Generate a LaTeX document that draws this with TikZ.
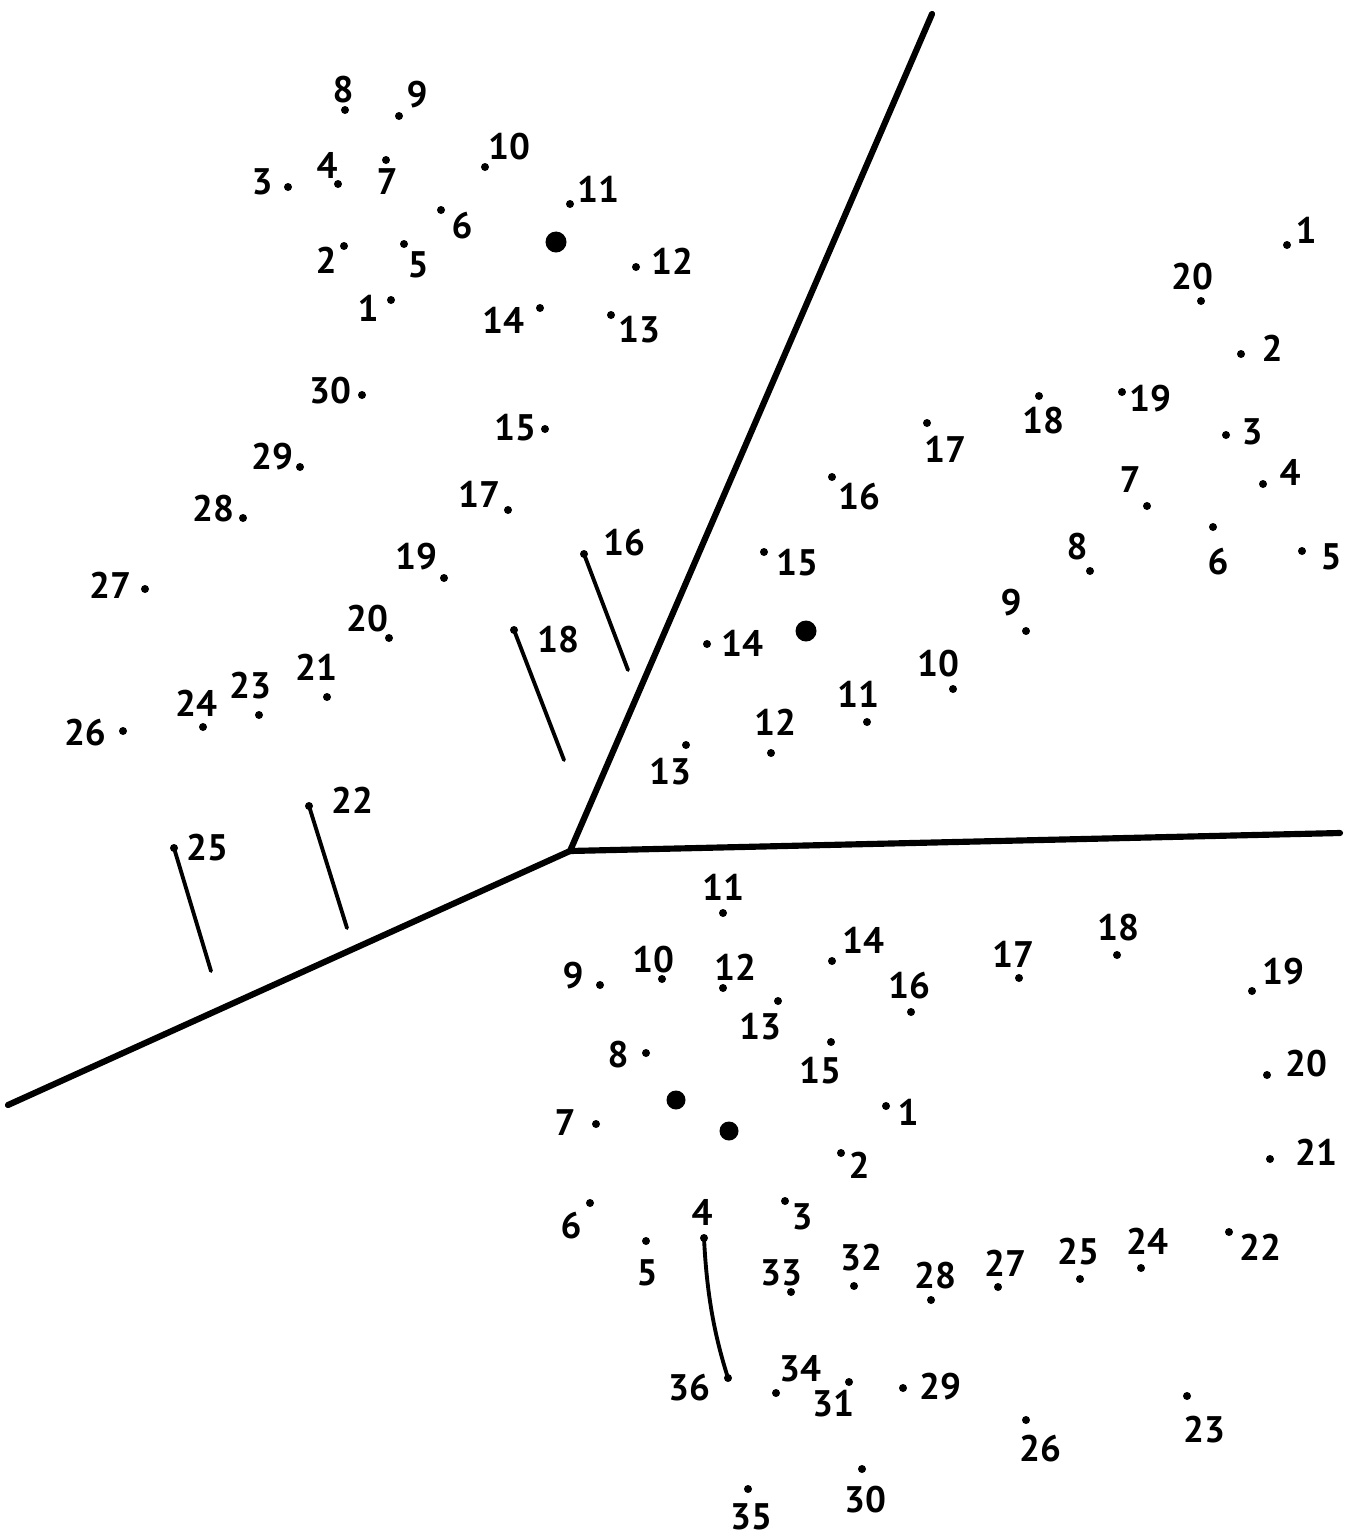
\documentclass[tikz,border=0pt]{standalone}
\usepackage{fontspec}
\setmainfont{PT Sans}
\begin{document}
\begin{tikzpicture}[x=0.01cm,y=-0.01cm,
  dot/.style={circle,fill=black,inner sep=0pt,minimum size=0.08cm},
  bigdot/.style={circle,fill=black,inner sep=0pt,minimum size=0.21cm},
  lbl/.style={inner sep=0pt,font=\fontsize{10.5}{12}\selectfont\bfseries},
  wall/.style={line width=1.75pt,line cap=round,line join=round},
  seg/.style={line width=1.1pt,line cap=round}]
\useasboundingbox (0,0) rectangle (1352,1539);
% top-left group
\foreach \n/\x/\y/\lx/\ly in {1/391/300/368/308, 2/344/246/326/260, 3/288/187/262/182,
  4/338/184/327/165, 5/404/244/418/265, 6/441/210/462/226, 7/386/160/387/182,
  8/345/110/343/90, 9/399/116/417/95, 10/485/167/509/147, 11/570/204/598/189,
  12/636/267/672/261, 13/611/315/639/330, 14/540/308/503/320, 15/545/429/515/428,
  16/584/554/624/543, 17/508/510/479/494, 18/514/630/558/640, 19/444/578/416/557,
  20/389/638/367/619, 21/327/697/316/667, 22/309/806/352/800, 23/259/715/250/686,
  24/203/727/196/703, 25/174/848/207/848, 26/123/731/85/733, 27/145/589/110/585,
  28/243/518/213/509, 29/300/467/272/457, 30/362/395/330/391}{
  \node[dot] (A\n) at (\x,\y) {};
  \node[lbl] (LA\n) at (\lx,\ly) {\n};
}
% right group
\foreach \n/\x/\y/\lx/\ly in {1/1287/245/1306/230, 2/1241/354/1272/348, 3/1226/435/1252/432,
  4/1263/484/1290/472, 5/1302/551/1331/557, 6/1213/527/1218/562, 7/1147/506/1130/480,
  8/1090/571/1077/547, 9/1026/631/1011/603, 10/953/689/938/664, 11/867/722/858/694,
  12/771/753/775/722, 13/686/745/670/772, 14/707/644/742/643, 15/764/552/797/563,
  16/832/477/859/497, 17/927/423/945/449, 18/1039/396/1043/421, 19/1122/392/1150/399,
  20/1201/301/1192/277}{
  \node[dot] (B\n) at (\x,\y) {};
  \node[lbl] (LB\n) at (\lx,\ly) {\n};
}
% bottom group
\foreach \n/\x/\y/\lx/\ly in {1/886/1106/908/1112, 2/841/1153/859/1165, 3/785/1201/802/1217,
  4/704/1238/702/1212, 5/646/1241/647/1273, 6/590/1203/571/1226, 7/596/1124/565/1123,
  8/646/1053/618/1055, 9/600/985/573/976, 10/662/979/653/960, 11/723/913/723/887,
  12/723/988/735/967, 13/778/1001/760/1027, 14/832/961/863/940, 15/831/1042/820/1071,
  16/911/1012/909/986, 17/1019/978/1013/954, 18/1117/955/1118/928, 19/1252/991/1283/972,
  20/1267/1075/1306/1064, 21/1270/1159/1316/1152, 22/1229/1232/1260/1247,
  23/1187/1396/1204/1430, 24/1141/1268/1147/1241, 25/1080/1279/1078/1252,
  26/1026/1420/1040/1449, 27/998/1287/1005/1263, 28/931/1300/935/1276,
  29/903/1388/940/1387, 30/862/1469/865/1500, 31/849/1382/833/1404,
  32/854/1286/861/1258, 33/791/1292/781/1273, 34/776/1393/800/1369,
  35/748/1489/751/1517, 36/728/1378/689/1388}{
  \node[dot] (C\n) at (\x,\y) {};
  \node[lbl] (LC\n) at (\lx,\ly) {\n};
}
% big dots
\node[bigdot] (bigA) at (556,242) {};
\node[bigdot] (bigB) at (806,631) {};
\node[bigdot,minimum size=0.19cm] (bigC1) at (676,1100) {};
\node[bigdot,minimum size=0.19cm] (bigC2) at (729,1131) {};
% walls
\coordinate (hub) at (570,851);
\coordinate (wtop) at (932,14);
\coordinate (wright) at (1340,833);
\coordinate (wleft) at (8,1105);
\draw[wall] (wtop) -- (hub) -- (wright);
\draw[wall] (hub) -- (wleft);
% already drawn segments
\coordinate (A16e) at (628,670);
\coordinate (A18e) at (564,760);
\coordinate (A22e) at (347,928);
\coordinate (A25e) at (211,971);
\draw[seg] (A16.center) -- (A16e);
\draw[seg] (A18.center) -- (A18e);
\draw[seg] (A22.center) -- (A22e);
\draw[seg] (A25.center) -- (A25e);
\draw[seg] (C4.center) .. controls (707,1300) and (716,1340) .. (C36.center);
\end{tikzpicture}
\end{document}
